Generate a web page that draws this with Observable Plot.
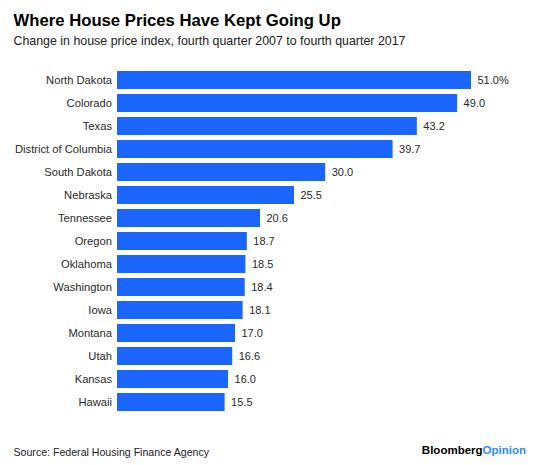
<!DOCTYPE html>
<html>
<head>
<meta charset="utf-8">
<script src="https://cdn.jsdelivr.net/npm/d3@7"></script>
<script src="https://cdn.jsdelivr.net/npm/@observablehq/plot@0.6"></script>
<style>
  html, body { margin: 0; padding: 0; background: #fff; }
  #wrap { position: relative; width: 560px; height: 465px; font-family: "Liberation Sans", Arial, sans-serif; overflow: hidden; }
  .t { position: absolute; white-space: nowrap; line-height: 1; }
  #chart { position: absolute; left: 0; top: 55px; }
</style>
</head>
<body>
<div id="wrap">
  <div id="chart"></div>
  <div class="t" id="title" style="left:13.5px; top:13.4px; font-size:16.7px; font-weight:bold; color:#000;">Where House Prices Have Kept Going Up</div>
  <div class="t" id="subtitle" style="left:13.5px; top:35.2px; font-size:12.4px; color:#222;">Change in house price index, fourth quarter 2007 to fourth quarter 2017</div>
  <div class="t" id="source" style="left:13.5px; top:446.7px; font-size:10.6px; color:#222;">Source: Federal Housing Finance Agency</div>
  <div class="t" id="brand" style="right:34px; top:445.3px; font-size:11.5px; font-weight:bold; color:#000;">Bloomberg<span style="color:#2b8cff;">Opinion</span></div>
</div>
<script>
const states = ["North Dakota", "Colorado", "Texas", "District of Columbia", "South Dakota", "Nebraska", "Tennessee", "Oregon", "Oklahoma", "Washington", "Iowa", "Montana", "Utah", "Kansas", "Hawaii"];
const values = [51.0, 49.0, 43.2, 39.7, 30.0, 25.5, 20.6, 18.7, 18.5, 18.4, 18.1, 17.0, 16.6, 16.0, 15.5];
const valueLabels = ["51.0%", "49.0", "43.2", "39.7", "30.0", "25.5", "20.6", "18.7", "18.5", "18.4", "18.1", "17.0", "16.6", "16.0", "15.5"];

const data = states.map((s, i) => ({state: s, value: values[i], label: valueLabels[i]}));

const chart = Plot.plot({
  width: 560,
  height: 370,
  marginTop: 4,
  marginBottom: 2,
  marginLeft: 117,
  marginRight: 89,
  style: {fontFamily: "'Liberation Sans', Arial, sans-serif", fontSize: "11px", color: "#2a2a2a", background: "transparent"},
  x: {domain: [0, 51], axis: null},
  y: {domain: states, padding: 0.2, label: null},
  marks: [
    Plot.barX(data, {x: "value", y: "state", fill: "#1a66ff"}),
    Plot.axisY({tickSize: 0, tickPadding: 5.5, fontSize: 11.2, label: null}),
    Plot.text(data, {x: "value", y: "state", text: "label", dx: 6, textAnchor: "start", fontSize: 11, fill: "#2a2a2a"})
  ]
});
document.getElementById("chart").appendChild(chart);
</script>
</body>
</html>
